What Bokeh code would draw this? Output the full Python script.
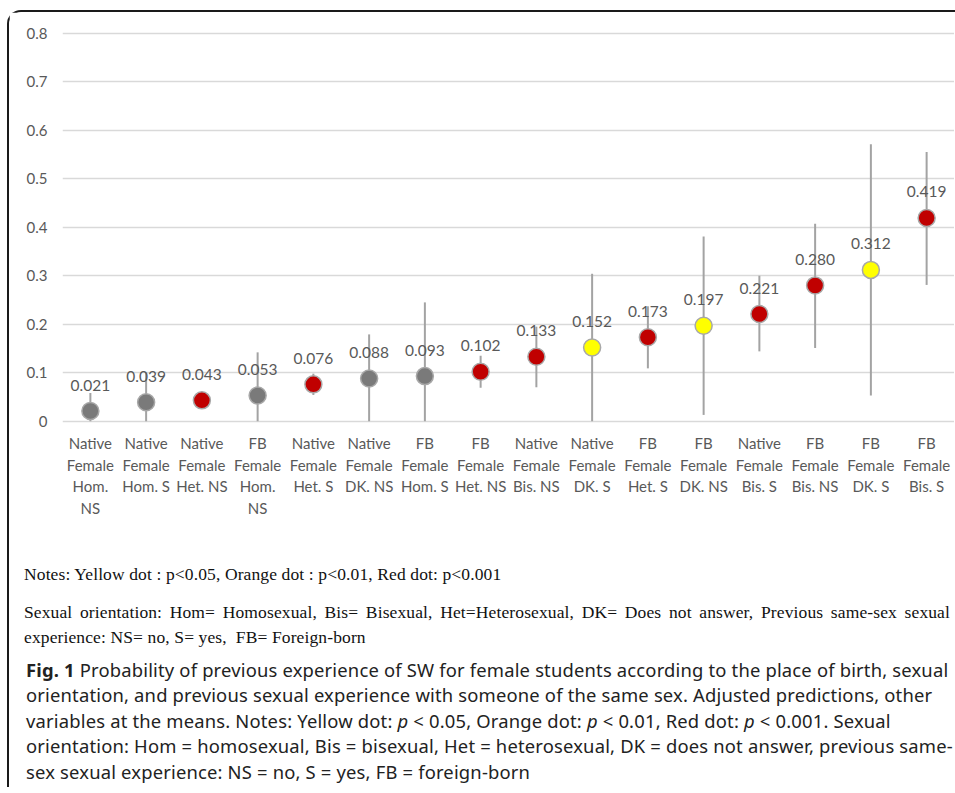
from bokeh.plotting import figure
from bokeh.models import ColumnDataSource, FactorRange, Range1d, Div, FixedTicker
from bokeh.layouts import column
from bokeh.core.properties import value
from bokeh.embed import file_html
from bokeh.resources import INLINE

# ---------------- data ----------------
categories = [
    "Native\nFemale\nHom.\nNS", "Native\nFemale\nHom. S", "Native\nFemale\nHet. NS",
    "FB\nFemale\nHom.\nNS", "Native\nFemale\nHet. S", "Native\nFemale\nDK. NS",
    "FB\nFemale\nHom. S", "FB\nFemale\nHet. NS", "Native\nFemale\nBis. NS",
    "Native\nFemale\nDK. S", "FB\nFemale\nHet. S", "FB\nFemale\nDK. NS",
    "Native\nFemale\nBis. S", "FB\nFemale\nBis. NS", "FB\nFemale\nDK. S",
    "FB\nFemale\nBis. S",
]
probability = [0.021, 0.039, 0.043, 0.053, 0.076, 0.088, 0.093, 0.102,
               0.133, 0.152, 0.173, 0.197, 0.221, 0.280, 0.312, 0.419]
ci_lower = [0.000, 0.000, 0.035, 0.000, 0.054, 0.000, 0.000, 0.069,
            0.070, 0.000, 0.109, 0.013, 0.144, 0.151, 0.053, 0.281]
ci_upper = [0.058, 0.100, 0.051, 0.142, 0.098, 0.179, 0.245, 0.135,
            0.195, 0.304, 0.237, 0.381, 0.300, 0.407, 0.571, 0.555]
significance = ["ns", "ns", "p<0.001", "ns", "p<0.001", "ns", "ns", "p<0.001",
                "p<0.001", "p<0.05", "p<0.001", "p<0.05", "p<0.001", "p<0.001",
                "p<0.05", "p<0.001"]
y_ticks = [0, 0.1, 0.2, 0.3, 0.4, 0.5, 0.6, 0.7, 0.8]

sig_colors = {"ns": "#7a7a7a", "p<0.05": "#ffff00", "p<0.01": "#ffa500", "p<0.001": "#c00000"}

src = ColumnDataSource(dict(
    cat=categories,
    p=probability,
    lo=ci_lower,
    hi=ci_upper,
    color=[sig_colors[s] for s in significance],
    label=[f"{v:.3f}" for v in probability],
))

# ---------------- figure ----------------
p = figure(
    x_range=FactorRange(factors=categories, range_padding=0),
    y_range=Range1d(-0.215, 0.82),
    width=945, height=515,
    min_border_left=53, min_border_right=0, min_border_top=11, min_border_bottom=2,
    output_backend="svg", toolbar_location=None,
)
p.outline_line_color = None
p.background_fill_color = "white"
p.border_fill_color = "white"

p.xaxis.visible = False
p.xgrid.grid_line_color = None
p.ygrid.grid_line_color = "#d9d9d9"
p.ygrid.grid_line_width = 1.5
p.yaxis.ticker = FixedTicker(ticks=y_ticks)
p.yaxis.major_label_overrides = {0: "0"}
p.yaxis.axis_line_color = None
p.yaxis.major_tick_line_color = None
p.yaxis.minor_tick_line_color = None
p.yaxis.major_label_text_color = "#595959"
p.yaxis.major_label_text_font = "Lato"
p.yaxis.major_label_text_font_size = "15px"
p.yaxis.major_label_standoff = 9

p.segment(x0="cat", y0="lo", x1="cat", y1="hi", source=src,
          line_color="#a3a3a3", line_width=2)
p.scatter(x="cat", y="p", source=src, size=17, fill_color="color",
          line_color="#a8a8a8", line_width=1.5)
p.text(x="cat", y="p", text="label", source=src, y_offset=-26,
       text_align="center", text_baseline="middle",
       text_font=value("Lato"), text_font_size="15.5px", text_color="#595959")

# category labels, one row of text per label line, under the 0 line
n_lines = max(len(c.split("\n")) for c in categories)
for k in range(n_lines):
    xs, ts = [], []
    for c in categories:
        parts = c.split("\n")
        if k < len(parts):
            xs.append(c)
            ts.append(parts[k])
    lab = ColumnDataSource(dict(x=xs, y=[0] * len(xs), t=ts))
    p.text(x="x", y="y", text="t", source=lab, y_offset=22 + 21.5 * k,
           text_align="center", text_baseline="middle",
           text_font=value("Lato"), text_font_size="15px", text_color="#595959")

# ---------------- notes & caption ----------------
notes_1 = "Notes: Yellow dot : p&lt;0.05, Orange dot : p&lt;0.01, Red dot: p&lt;0.001"
notes_2a = ("Sexual orientation: Hom= Homosexual, Bis= Bisexual, Het=Heterosexual, "
            "DK= Does not answer, Previous same-sex sexual")
notes_2b = "experience: NS= no, S= yes,&nbsp; FB= Foreign-born"
caption_lines = [
    "<b>Fig. 1</b> Probability of previous experience of SW for female students according to the place of birth, sexual",
    "orientation, and previous sexual experience with someone of the same sex. Adjusted predictions, other",
    "variables at the means. Notes: Yellow dot: <i>p</i> &lt; 0.05, Orange dot: <i>p</i> &lt; 0.01, Red dot: <i>p</i> &lt; 0.001. Sexual",
    "orientation: Hom = homosexual, Bis = bisexual, Het = heterosexual, DK = does not answer, previous same-",
    "sex sexual experience: NS = no, S = yes, FB = foreign-born",
]

serif = ("font-family:'Liberation Serif','Times New Roman',serif;font-size:17.5px;"
         "letter-spacing:0.12px;line-height:22px;color:#111;")
sans = ("font-family:'Noto Sans',sans-serif;font-size:18.4px;letter-spacing:0.18px;"
        "line-height:25.4px;color:#222;")
html = f"""
<div style="position:relative;width:945px;height:250px;">
  <div style="position:absolute;left:10px;top:31px;white-space:nowrap;{serif}">{notes_1}</div>
  <div style="position:absolute;left:10px;top:69px;width:926px;text-align:justify;text-align-last:justify;{serif}">{notes_2a}</div>
  <div style="position:absolute;left:10px;top:94px;white-space:nowrap;{serif}">{notes_2b}</div>
  <div style="position:absolute;left:12px;top:125px;white-space:nowrap;{sans}">{'<br>'.join(caption_lines)}</div>
</div>
"""
div = Div(text=html, width=945, height=250)

layout = column(p, div, spacing=0, margin=(10, 0, 0, 7), styles={
    "border-left": "2px solid #1a1a1a",
    "border-top": "2px solid #1a1a1a",
    "border-top-left-radius": "14px",
})

open("out.html", "w").write(file_html(layout, INLINE))
